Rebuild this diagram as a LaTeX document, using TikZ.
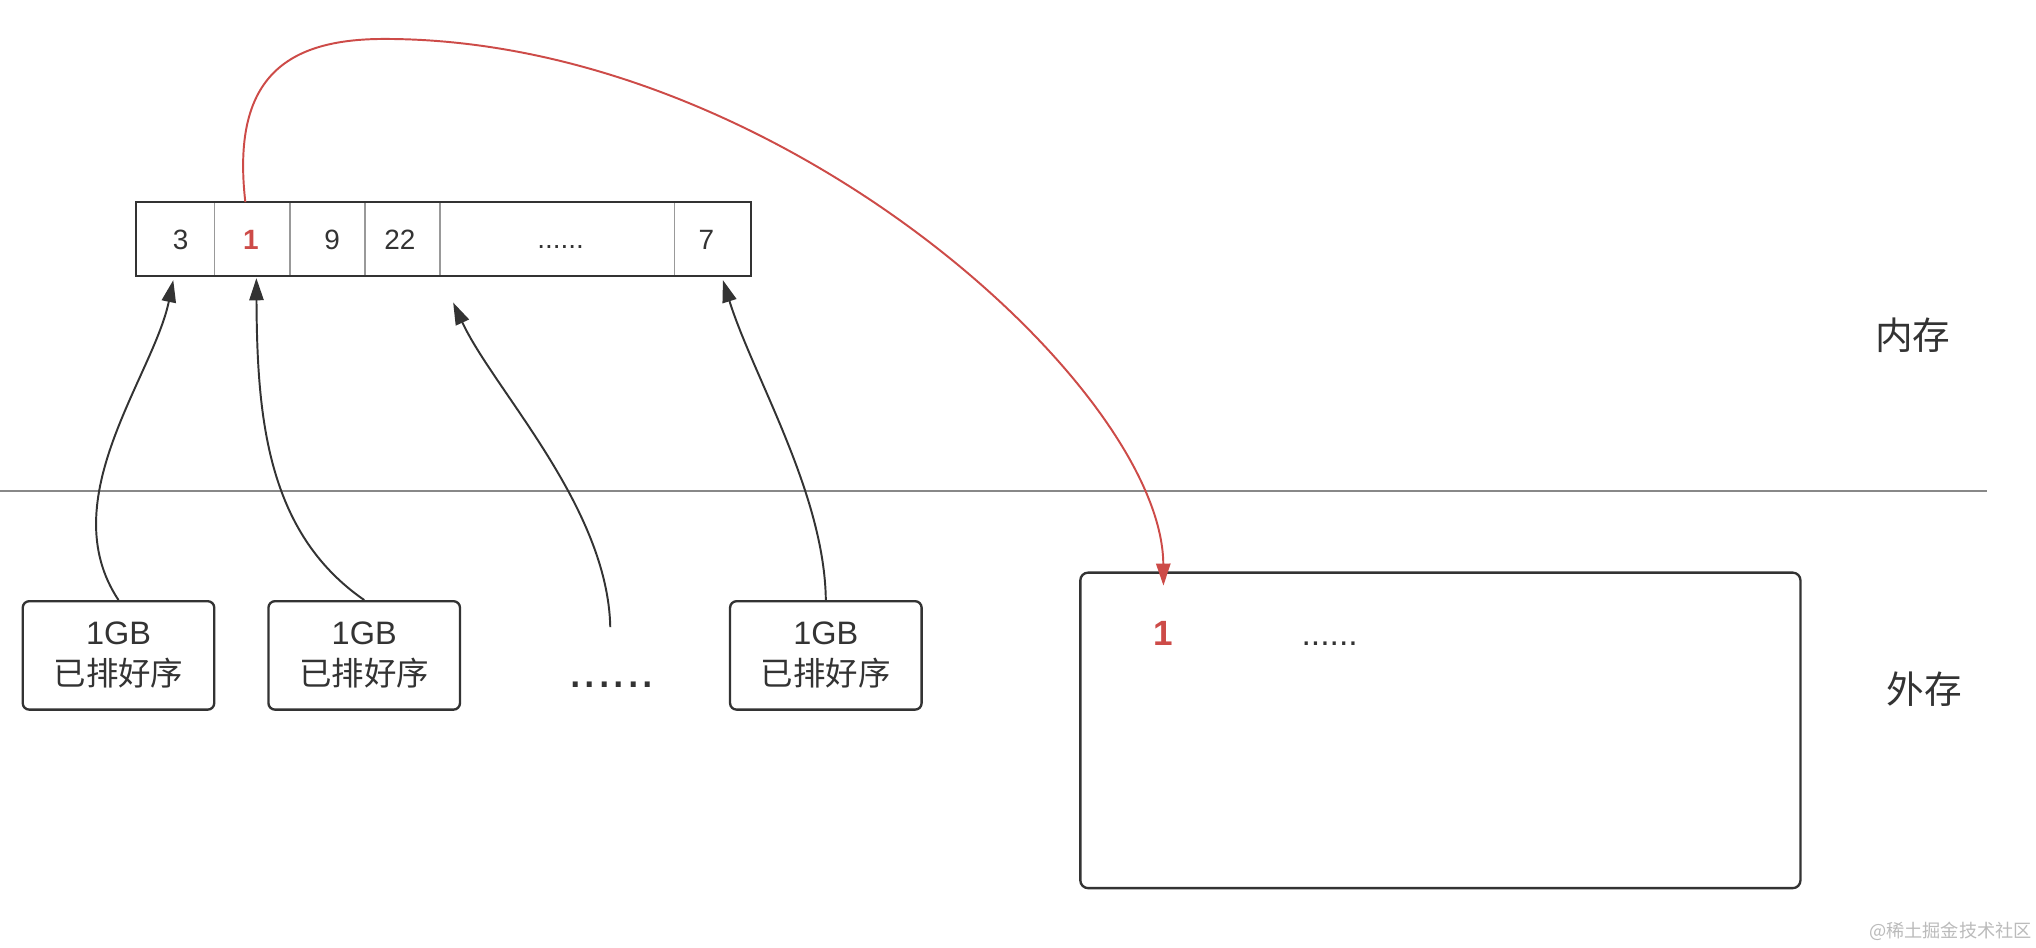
\documentclass[tikz,border=0pt]{standalone}
\usepackage{fontspec}
\setmainfont{Liberation Sans}
\newfontfamily\cjk{Noto Sans CJK SC}
\usetikzlibrary{arrows.meta}
\definecolor{ink}{HTML}{333333}
\definecolor{redc}{RGB}{205,75,72}
\definecolor{grayline}{HTML}{888888}
\definecolor{cellline}{HTML}{999999}
\definecolor{wm}{HTML}{BBBBBB}
\tikzset{
  cell/.style={draw=cellline, line width=0.9pt, inner sep=0pt, minimum height=56.2pt},
  celltext/.style={inner sep=0pt, anchor=base, font=\fontsize{21.5}{24}\selectfont, text=ink},
  chunk/.style={draw=ink, line width=1.8pt, rounded corners=5pt, minimum width=147.5pt,
    minimum height=83.5pt, align=center, text=ink, font=\fontsize{25}{31.5}\selectfont},
  bigbox/.style={draw=ink, line width=1.8pt, rounded corners=6pt, minimum width=554.6pt,
    minimum height=243pt},
  blackarrow/.style={draw=ink, line width=1.5pt, -{Triangle[length=17pt,width=11pt]}},
  redarrow/.style={draw=redc, line width=1.5pt, -{Triangle[length=17pt,width=11pt]}},
  side/.style={font=\cjk\fontsize{29}{34}\selectfont, text=ink},
}
\begin{document}
\begin{tikzpicture}[x=1pt,y=-1pt]
\useasboundingbox[fill=white] (0,0) rectangle (1568,730);
% separator line
\draw[grayline, line width=1.2pt] (0,378) -- (1530,378);
% array cells
\node[cell, minimum width=60.1pt] (c3) at (135.45,184.2) {};
\node[cell, minimum width=57.9pt] (c1) at (194.45,184.2) {};
\node[cell, minimum width=57.7pt] (c9) at (252.25,184.2) {};
\node[cell, minimum width=57.8pt] (c22) at (310,184.2) {};
\node[cell, minimum width=180.6pt] (cd) at (429.2,184.2) {};
\node[cell, minimum width=58.5pt] (c7) at (548.75,184.2) {};
\draw[ink, line width=1.8pt] (c3.north west) rectangle (c7.south east);
\node[celltext] (t3) at (139.2,192) {3};
\node[celltext, text=redc, font=\fontsize{21.5}{24}\selectfont\bfseries] (t1) at (193.2,192) {1};
\node[celltext] (t9) at (255.7,192) {9};
\node[celltext] (t22) at (308,192) {22};
\node[celltext] (tdots) at (431.7,191) {......};
\node[celltext] (t7) at (544,192) {7};
% chunks on disk
\node[chunk] (b1) at (91.25,504.75) {1GB\\{\cjk 已排好序}};
\node[chunk] (b2) at (280.5,504.75) {1GB\\{\cjk 已排好序}};
\node[chunk] (b4) at (636,504.75) {1GB\\{\cjk 已排好序}};
\node[text=ink, font=\fontsize{40}{40}\selectfont, anchor=base, inner sep=0pt] (bd) at (471,529.5) {......};
% big output box
\node[bigbox] (out) at (1109.3,562.5) {};
\node[text=redc, font=\fontsize{27}{30}\selectfont\bfseries, inner sep=0pt] (o1) at (896,488) {1};
\node[text=ink, font=\fontsize{26}{30}\selectfont, anchor=base, inner sep=0pt] (od) at (1024,497.5) {......};
% side labels
\node[side] (mem) at (1473,258) {内存};
\node[side] (disk) at (1482,531) {外存};
% watermark
\node[text=wm, font=\cjk\fontsize{14}{16}\selectfont, anchor=east, inner sep=0pt] (wmk) at (1565,717.5) {@稀土掘金技术社区};
% coordinates
\coordinate (dfree) at (470,483);
\coordinate (dtip) at (349,233);
\coordinate (redend) at (896,451);
\coordinate (redtop) at (296,30);
% black arrows
\draw[blackarrow] (b1.north) .. controls (40,385) and (118,290) .. ([xshift=-2pt,yshift=-3pt]c3.south);
\draw[blackarrow] (b2.north) .. controls (205,410) and (198,320) .. ([xshift=3pt,yshift=-1.5pt]c1.south);
\draw[blackarrow] (dfree) .. controls (468,390) and (380,300) .. (dtip);
\draw[blackarrow] (b4.north) .. controls (635,380) and (580,290) .. ([xshift=8pt,yshift=-3pt]c7.south);
% red arrow
\draw[redarrow] ([xshift=-5.5pt]c1.north) .. controls (178,60) and (220,30) .. (redtop)
  .. controls (600,30) and (895,300) .. (redend);
\end{tikzpicture}
\end{document}
